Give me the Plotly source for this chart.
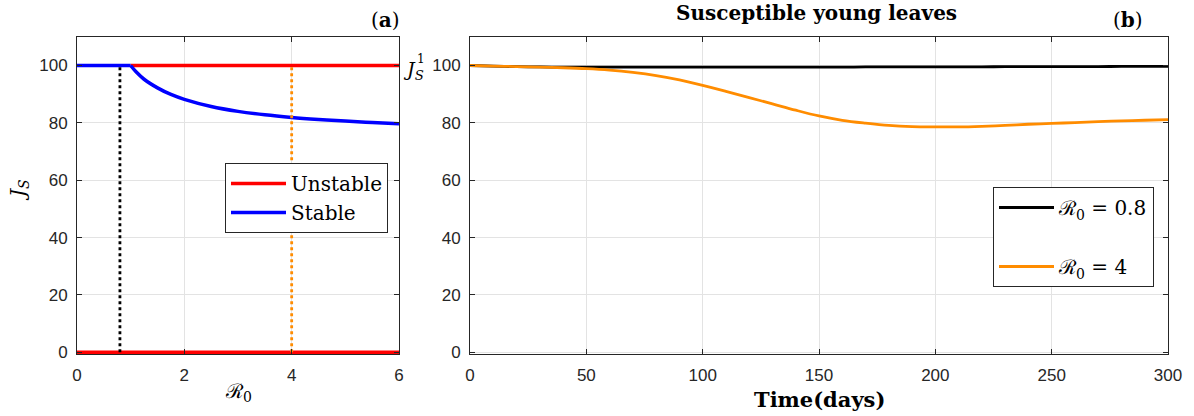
import plotly.graph_objects as go

W, H = 1194, 416

# ---------------- data ----------------
# panel (a): bifurcation diagram
r0_stable_free = [0.0, 1.0]
js_stable_free = [100, 100]
r0_unstable_free = [1.0, 6.0]
js_unstable_free = [100, 100]
r0_unstable_zero = [0.0, 6.0]
js_unstable_zero = [0, 0]
r0_endemic = [1.0, 1.1, 1.25, 1.5, 1.75, 2.0, 2.5, 3.0, 3.5, 4.0, 4.5, 5.0, 5.5, 6.0]
js_endemic = [100, 97.8, 95.2, 92.2, 89.9, 88.2, 85.7, 84.0, 82.8, 81.9, 81.2, 80.6, 80.1, 79.7]
r0_marks = [0.8, 4.0]
js_mark_range = [0, 100]

# panel (b): time series
t_days = [0, 10, 20, 30, 40, 50, 60, 70, 80, 90, 100, 110, 120, 130, 140, 150,
          160, 170, 180, 190, 200, 210, 220, 230, 240, 250, 260, 270, 280, 290, 300]
js_r08 = [100, 99.8, 99.6, 99.5, 99.4, 99.4, 99.4, 99.4, 99.4, 99.4, 99.4, 99.4, 99.4, 99.4, 99.4, 99.4,
          99.4, 99.5, 99.5, 99.5, 99.5, 99.5, 99.5, 99.6, 99.6, 99.6, 99.6, 99.6, 99.7, 99.7, 99.7]
js_r4 = [100, 99.8, 99.6, 99.4, 99.2, 98.9, 98.4, 97.6, 96.5, 95.0, 93.1, 91.0, 88.8, 86.6, 84.4, 82.4,
         80.9, 79.9, 79.1, 78.7, 78.6, 78.6, 78.8, 79.1, 79.5, 79.8, 80.1, 80.4, 80.7, 80.9, 81.1]

x_ticks_a = [0, 2, 4, 6]
x_ticks_b = [0, 50, 100, 150, 200, 250, 300]
y_ticks = [0, 20, 40, 60, 80, 100]

# ---------------- styling ----------------
AX = "#262626"
GRID = "#e3e3e3"
SANS = "Liberation Sans, Arial, sans-serif"
SERIF = "DejaVu Serif, Liberation Serif, serif"
RED, BLUE, ORANGE = "#ff0000", "#0000ff", "#ff8c00"

def px(x):
    return x / W

def py(y):
    return 1 - y / H

fig = go.Figure()

# panel (a)
fig.add_trace(go.Scatter(x=r0_unstable_zero, y=js_unstable_zero, mode="lines",
                         line=dict(color=RED, width=3.5), name="Unstable",
                         legend="legend", showlegend=True, xaxis="x", yaxis="y"))
fig.add_trace(go.Scatter(x=r0_unstable_free, y=js_unstable_free, mode="lines",
                         line=dict(color=RED, width=3.5), name="Unstable",
                         showlegend=False, xaxis="x", yaxis="y"))
fig.add_trace(go.Scatter(x=r0_stable_free, y=js_stable_free, mode="lines",
                         line=dict(color=BLUE, width=3.5), name="Stable",
                         legend="legend", showlegend=True, xaxis="x", yaxis="y"))
fig.add_trace(go.Scatter(x=r0_endemic, y=js_endemic, mode="lines", line_shape="spline",
                         line=dict(color=BLUE, width=3.5), name="Stable",
                         showlegend=False, xaxis="x", yaxis="y"))
fig.add_trace(go.Scatter(x=[r0_marks[0]] * 2, y=js_mark_range, mode="lines",
                         line=dict(color="black", width=2.8, dash="dot"),
                         showlegend=False, xaxis="x", yaxis="y"))
fig.add_trace(go.Scatter(x=[r0_marks[1]] * 2, y=js_mark_range, mode="lines",
                         line=dict(color=ORANGE, width=2.8, dash="dot"),
                         showlegend=False, xaxis="x", yaxis="y"))

# panel (b)
fig.add_trace(go.Scatter(x=t_days, y=js_r08, mode="lines", line_shape="spline",
                         line=dict(color="black", width=2.8),
                         name="ℛ<sub>0</sub> = 0.8", legend="legend2", legendgroup="g1",
                         xaxis="x2", yaxis="y2"))
fig.add_trace(go.Scatter(x=t_days, y=js_r4, mode="lines", line_shape="spline",
                         line=dict(color=ORANGE, width=2.8),
                         name="ℛ<sub>0</sub> = 4", legend="legend2", legendgroup="g2",
                         xaxis="x2", yaxis="y2"))

axis_common = dict(showline=True, linecolor=AX, linewidth=1, mirror="ticks",
                   ticks="inside", ticklen=5, tickcolor=AX, tickwidth=1,
                   showgrid=True, gridcolor=GRID, gridwidth=1, zeroline=False,
                   automargin=False,
                   tickfont=dict(family=SANS, size=17, color=AX))

fig.update_layout(
    width=W, height=H,
    margin=dict(l=0, r=0, t=0, b=0, autoexpand=False),
    paper_bgcolor="white", plot_bgcolor="white",
    xaxis=dict(domain=[px(77), px(399)], range=[0, 6], tickvals=x_ticks_a,
               ticklabelstandoff=6, anchor="y", **axis_common),
    yaxis=dict(domain=[py(354), py(36.8)], range=[-0.6, 110], tickvals=y_ticks,
               ticklabelstandoff=5, anchor="x", **axis_common),
    xaxis2=dict(domain=[px(470), px(1168)], range=[0, 300], tickvals=x_ticks_b,
                ticklabelstandoff=6, anchor="y2", **axis_common),
    yaxis2=dict(domain=[py(354), py(36.8)], range=[-0.6, 110], tickvals=y_ticks,
                ticklabelstandoff=5, anchor="x2", **axis_common),
    legend=dict(x=px(388), xanchor="right", y=py(163), yanchor="top",
                bgcolor="white", bordercolor=AX, borderwidth=1,
                font=dict(family=SERIF, size=20, color="black"),
                itemwidth=55),
    legend2=dict(x=px(1154), xanchor="right", y=py(187), yanchor="top",
                 bgcolor="white", bordercolor=AX, borderwidth=1,
                 tracegroupgap=30,
                 font=dict(family=SERIF, size=20, color="black"),
                 itemwidth=55),
)

ann = [
    dict(text="(<b>a</b>)", x=px(385), y=py(20), xanchor="center",
         font=dict(family=SERIF, size=20, color="black")),
    dict(text="(<b>b</b>)", x=px(1128), y=py(20), xanchor="center",
         font=dict(family=SERIF, size=20, color="black")),
    dict(text="<b>Susceptible young leaves</b>", x=px(816), y=py(13), xanchor="center",
         font=dict(family=SERIF, size=20, color="black")),
    dict(text="<i>J</i><sub><i>S</i></sub>", x=px(401), y=py(70), xanchor="left",
         font=dict(family=SERIF, size=19, color="black")),
    dict(text="1", x=px(415), y=py(59), xanchor="left",
         font=dict(family=SERIF, size=12, color="black")),
    dict(text="<i>J</i><sub><i>S</i></sub>", x=px(19), y=py(190), xanchor="center", textangle=-90,
         font=dict(family=SERIF, size=20, color="black")),
    dict(text="ℛ<sub>0</sub>", x=px(238), y=py(392), xanchor="center",
         font=dict(family=SERIF, size=20, color="black")),
    dict(text="<b>Time(days)</b>", x=px(819), y=py(399), xanchor="center",
         font=dict(family=SERIF, size=21, color="black")),
]
for a in ann:
    fig.add_annotation(xref="paper", yref="paper", showarrow=False,
                       yanchor="middle", **a)

fig.write_html("out.html", config={"displayModeBar": False},
               post_script="document.body.style.margin='0';document.body.style.overflow='hidden';")
